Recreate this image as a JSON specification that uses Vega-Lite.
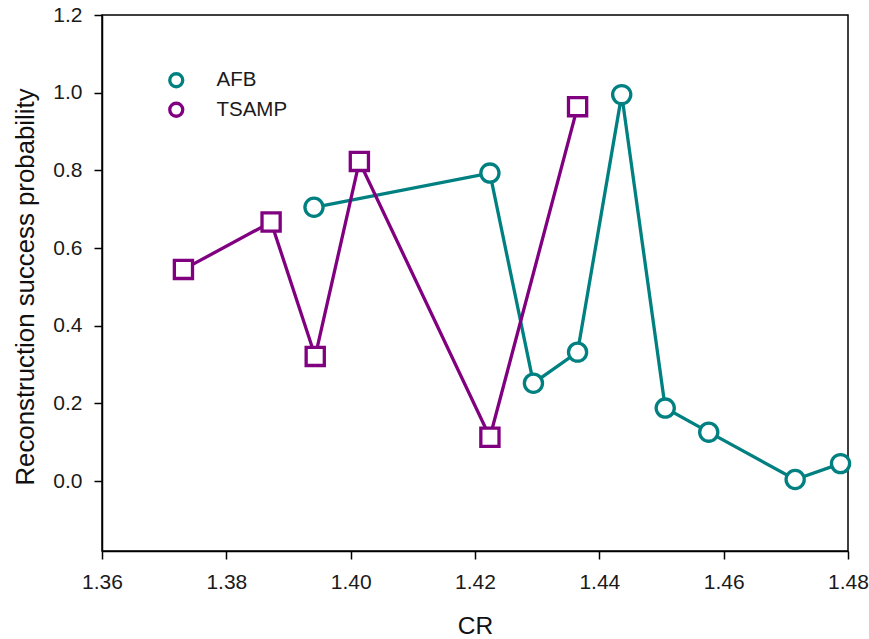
{
  "$schema": "https://vega.github.io/schema/vega-lite/v6.json",
  "width": 746,
  "height": 536,
  "autosize": {"type": "none"},
  "padding": {"left": 102, "top": 15, "right": 21, "bottom": 88},
  "background": "white",
  "config": {
    "font": "Liberation Sans",
    "view": {"stroke": "black", "strokeWidth": 1.5},
    "axis": {
      "grid": false,
      "domainColor": "black",
      "domainWidth": 1.5,
      "tickColor": "black",
      "tickWidth": 1.5,
      "tickSize": 8,
      "labelFont": "Liberation Sans",
      "labelFontSize": 21,
      "labelColor": "#1a1a1a",
      "labelPadding": 12,
      "labelFlush": false,
      "labelOverlap": false,
      "titleFont": "Liberation Sans",
      "titleFontSize": 24.5,
      "titleFontWeight": "normal",
      "titleColor": "#111111"
    }
  },
  "data": {
    "values": [
      {"series": "AFB", "cr": 1.3941, "p": 0.705},
      {"series": "AFB", "cr": 1.4224, "p": 0.793},
      {"series": "AFB", "cr": 1.4294, "p": 0.252},
      {"series": "AFB", "cr": 1.4365, "p": 0.332},
      {"series": "AFB", "cr": 1.4436, "p": 0.995},
      {"series": "AFB", "cr": 1.4506, "p": 0.188},
      {"series": "AFB", "cr": 1.4576, "p": 0.126},
      {"series": "AFB", "cr": 1.4715, "p": 0.004},
      {"series": "AFB", "cr": 1.4788, "p": 0.045},
      {"series": "TSAMP", "cr": 1.3731, "p": 0.545},
      {"series": "TSAMP", "cr": 1.3872, "p": 0.667},
      {"series": "TSAMP", "cr": 1.3943, "p": 0.321},
      {"series": "TSAMP", "cr": 1.4014, "p": 0.823},
      {"series": "TSAMP", "cr": 1.4224, "p": 0.113},
      {"series": "TSAMP", "cr": 1.4365, "p": 0.964}
    ]
  },
  "encoding": {
    "x": {
      "field": "cr",
      "type": "quantitative",
      "scale": {"domain": [1.36, 1.48], "nice": false, "zero": false},
      "axis": {"values": [1.36, 1.38, 1.4, 1.42, 1.44, 1.46, 1.48], "format": ".2f", "title": "CR", "titlePadding": 22}
    },
    "y": {
      "field": "p",
      "type": "quantitative",
      "scale": {"domain": [-0.18, 1.2], "nice": false, "zero": false},
      "axis": {"values": [0, 0.2, 0.4, 0.6, 0.8, 1.0, 1.2], "format": ".1f", "title": "Reconstruction success probability", "titlePadding": 14, "titleFontSize": 25.8, "titleY": 271.5}
    }
  },
  "layer": [
    {
      "transform": [{"filter": "datum.series === 'AFB'"}],
      "mark": {"type": "line", "strokeWidth": 3.3, "stroke": "#008080"},
      "encoding": {}
    },
    {
      "transform": [{"filter": "datum.series === 'TSAMP'"}],
      "mark": {"type": "line", "strokeWidth": 3.3, "stroke": "#800080"},
      "encoding": {}
    },
    {
      "transform": [{"filter": "datum.series === 'AFB'"}],
      "mark": {"type": "point", "shape": "circle", "filled": true, "fill": "white", "strokeWidth": 3.3, "size": 330, "opacity": 1},
      "encoding": {
        "stroke": {
          "field": "series",
          "type": "nominal",
          "scale": {"domain": ["AFB", "TSAMP"], "range": ["#008080", "#800080"]},
          "legend": {
            "title": null,
            "orient": "none",
            "legendX": 64,
            "legendY": 55,
            "padding": 0,
            "symbolSize": 169,
            "symbolStrokeWidth": 3.3,
            "symbolFillColor": "white",
            "labelFont": "Liberation Sans",
            "labelFontSize": 20.5,
            "labelColor": "#1a1a1a",
            "labelOffset": 30,
            "rowPadding": 2.5,
            "encode": {
              "symbols": {
                "shape": {"signal": "datum.value === 'AFB' ? 'M-4,0H-1.42M1.42,0H4M-1.42,0A1.42,1.42,0,1,0,1.42,0A1.42,1.42,0,1,0,-1.42,0Z' : 'M-4,0H-1.42M1.42,0H4M-1.42,-1.42H1.42V1.42H-1.42Z'"},
                "size": {"value": 169},
                "strokeWidth": {"value": 3.3},
                "fill": {"value": "white"},
                "opacity": {"value": 1}
              }
            }
          }
        }
      }
    },
    {
      "transform": [{"filter": "datum.series === 'TSAMP'"}],
      "mark": {"type": "point", "shape": "square", "filled": true, "fill": "white", "stroke": "#800080", "strokeWidth": 3.3, "size": 330, "opacity": 1},
      "encoding": {}
    }
  ]
}
